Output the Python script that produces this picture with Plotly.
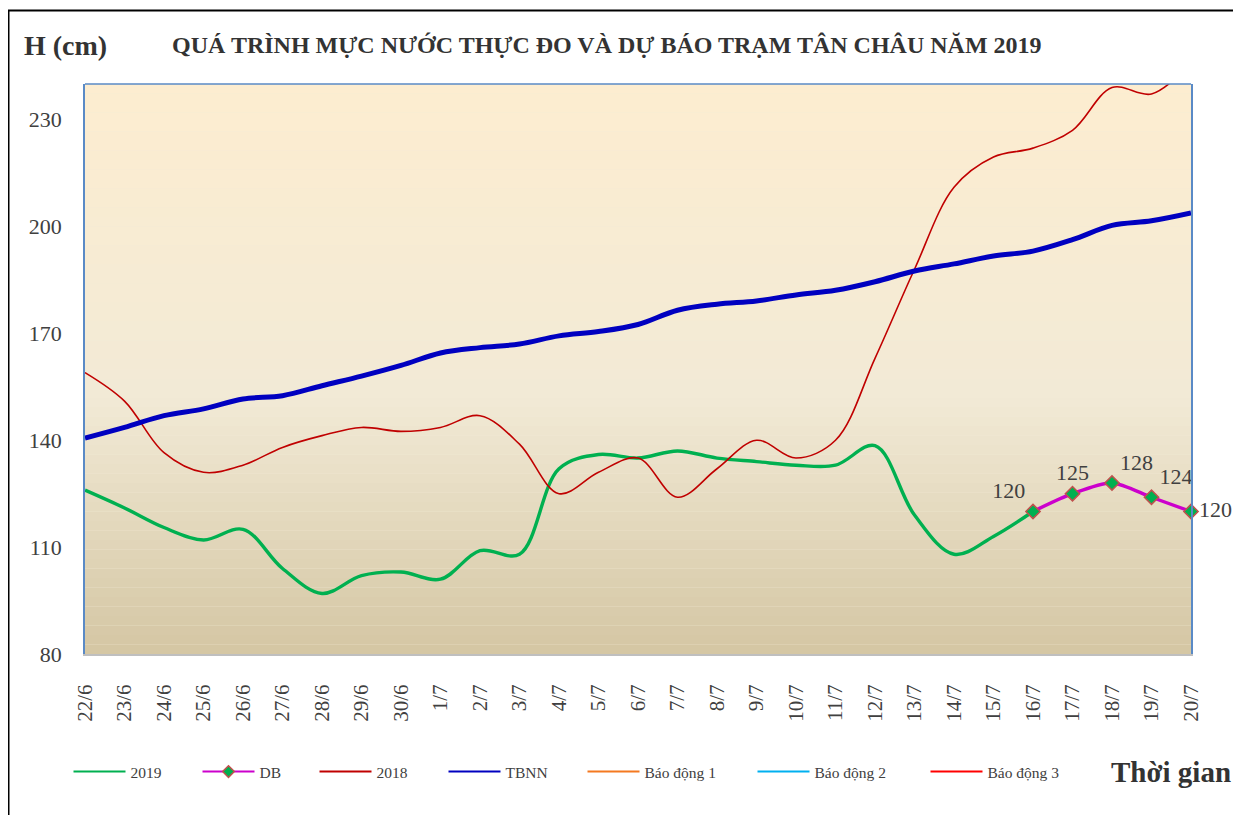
import plotly.graph_objects as go

# ---------------- data ----------------
dates = ["22/6", "23/6", "24/6", "25/6", "26/6", "27/6", "28/6", "29/6", "30/6",
         "1/7", "2/7", "3/7", "4/7", "5/7", "6/7", "7/7", "8/7", "9/7", "10/7",
         "11/7", "12/7", "13/7", "14/7", "15/7", "16/7", "17/7", "18/7", "19/7", "20/7"]

h2019 = [126, 121, 115.5, 112, 115, 104, 97, 102, 103, 101, 109, 108, 132, 136,
         135, 137, 135, 134, 133, 133, 138.5, 119, 108, 113, 120]
db_dates = ["16/7", "17/7", "18/7", "19/7", "20/7"]
db = [120, 125, 128, 124, 120]
h2018 = [159, 151, 136.5, 131, 133, 138, 141.3, 143.6, 142.5, 143.6, 146.9, 138.9,
         125, 131, 135, 124, 132, 140, 135, 140, 163, 188, 211, 219.5, 222, 227,
         239, 237.2, 246]
tbnn = [140.6, 143.6, 146.9, 148.8, 151.6, 152.5, 155.3, 158, 161, 164.5, 166, 167,
        169.3, 170.5, 172.5, 176.5, 178.2, 179.1, 180.8, 182.1, 184.5, 187.5, 189.5,
        191.7, 193.1, 196.3, 200.3, 201.6, 203.8]
alarm_names = ["Báo động 1", "Báo động 2", "Báo động 3"]
alarm_levels = [350, 400, 450]

y_ticks = [80, 110, 140, 170, 200, 230]
title_text = "QUÁ TRÌNH MỰC NƯỚC THỰC ĐO VÀ DỰ BÁO TRẠM TÂN CHÂU NĂM 2019"

# ---------------- geometry (page has an 8px body margin) ----------------
OFF = 8
W, H = 1241 - 2 * OFF, 823 - 2 * OFF
PL, PR, PT, PB = 85, 1191, 84, 654          # plot area in page pixels
ML, MT = PL - OFF, PT - OFF
PW, PH = PR - PL, PB - PT
MR, MB = W - ML - PW, H - MT - PH


def px(x):
    return (x - PL) / PW


def py(y):
    return (PB - y) / PH


SERIF = "Liberation Serif, Times New Roman, serif"
TXT = "#404040"
C2019, CDB, C2018, CTB = "#00B050", "#CC00CC", "#C00000", "#0000C0"
alarm_colors = ["#F47920", "#00B0F0", "#FF0000"]

fig = go.Figure()

fig.add_trace(go.Scatter(x=dates[:len(h2019)], y=h2019, name="2019", mode="lines",
                         line=dict(color=C2019, width=3.4, shape="spline", smoothing=1.0),
                         showlegend=False))
fig.add_trace(go.Scatter(x=dates, y=h2018, name="2018", mode="lines",
                         line=dict(color=C2018, width=1.6, shape="spline", smoothing=1.0),
                         showlegend=False))
fig.add_trace(go.Scatter(x=dates, y=tbnn, name="TBNN", mode="lines",
                         line=dict(color=CTB, width=5, shape="spline", smoothing=1.0),
                         showlegend=False))
for nm, lvl, col in zip(alarm_names, alarm_levels, alarm_colors):
    fig.add_trace(go.Scatter(x=dates, y=[lvl] * len(dates), name=nm, mode="lines",
                             line=dict(color=col, width=2), showlegend=False))
fig.add_trace(go.Scatter(x=db_dates, y=db, name="DB", mode="lines+markers+text",
                         line=dict(color=CDB, width=3.4, shape="spline", smoothing=0.8),
                         marker=dict(symbol="diamond", size=11, color=C2019,
                                     line=dict(color="#C0504D", width=1.5)),
                         text=[str(v) for v in db],
                         textposition=["top left", "top center", "top right", "top right", "middle right"],
                         textfont=dict(family=SERIF, size=22, color=TXT),
                         cliponaxis=False, showlegend=False))

# legend entries (thin sample lines as in the original legend)
legend_items = [("2019", C2019, False), ("DB", CDB, True), ("2018", C2018, False),
                ("TBNN", CTB, False)] + [(n, c, False) for n, c in zip(alarm_names, alarm_colors)]
for k, (nm, col, mk) in enumerate(legend_items):
    key = "legend" if k == 0 else "legend%d" % (k + 1)
    fig.add_trace(go.Scatter(x=[None], y=[None], name=nm,
                             mode="lines+markers" if mk else "lines",
                             line=dict(color=col, width=2),
                             marker=dict(symbol="diamond", size=9, color=C2019,
                                         line=dict(color="#C0504D", width=1.5)),
                             legend=key, showlegend=True))

# gradient background strips
top = (253, 237, 208)
mid = (242, 234, 214)
bot = (212, 198, 163)
N = 60
shapes = []
for i in range(N):
    t = (i + 0.5) / N  # 0 bottom -> 1 top
    if t > 0.45:
        f = (t - 0.45) / 0.55
        c = tuple(round(mid[j] + (top[j] - mid[j]) * f) for j in range(3))
    else:
        f = t / 0.45
        c = tuple(round(bot[j] + (mid[j] - bot[j]) * f) for j in range(3))
    shapes.append(dict(type="rect", xref="paper", yref="paper", x0=0, x1=1,
                       y0=i / N, y1=(i + 1) / N, layer="below", line=dict(width=0),
                       fillcolor="rgb(%d,%d,%d)" % c))
shapes.append(dict(type="line", xref="paper", yref="paper", x0=0, x1=1, y0=1, y1=1,
                   line=dict(color="#5A8AC6", width=1.5)))
# outer frame of the chart
shapes.append(dict(type="rect", xref="paper", yref="paper", x0=px(8.5), x1=px(1270),
                   y0=py(860), y1=py(10.5), line=dict(color="black", width=2),
                   fillcolor="rgba(0,0,0,0)"))

annotations = [
    dict(text="<b>H (cm)</b>", x=px(65), y=py(45), xref="paper", yref="paper",
         xanchor="center", yanchor="middle", showarrow=False,
         font=dict(family=SERIF, size=28, color="#333333")),
    dict(text="<b>" + title_text + "</b>", x=px(607), y=py(45), xref="paper", yref="paper",
         xanchor="center", yanchor="middle", showarrow=False,
         font=dict(family=SERIF, size=24, color="#333333")),
    dict(text="<b>Thời gian</b>", x=px(1171), y=py(772), xref="paper", yref="paper",
         xanchor="center", yanchor="middle", showarrow=False,
         font=dict(family=SERIF, size=29, color="#333333")),
]

legend_starts = [73, 202, 319, 448, 587, 757, 930]
legend_common = dict(orientation="h", yanchor="middle", xanchor="left",
                     bgcolor="rgba(0,0,0,0)", borderwidth=0, itemwidth=52,
                     font=dict(family=SERIF, size=15.5, color=TXT), y=py(772))
layout_legends = {}
for k, s in enumerate(legend_starts):
    key = "legend" if k == 0 else "legend%d" % (k + 1)
    layout_legends[key] = dict(legend_common, x=px(s - 4.5))

fig.update_layout(
    width=W, height=H,
    margin=dict(l=ML, r=MR, t=MT, b=MB),
    paper_bgcolor="white",
    plot_bgcolor="rgb(242,234,214)",
    showlegend=True,
    shapes=shapes,
    annotations=annotations,
    **layout_legends,
)
fig.update_xaxes(type="category", range=[0, len(dates) - 1], tickangle=-90,
                 showgrid=False, zeroline=False, showline=True, linecolor="#BFBFBF",
                 linewidth=2, ticks="", ticklabelstandoff=20,
                 tickfont=dict(family=SERIF, size=21, color=TXT))
fig.update_yaxes(range=[80, 240], tickvals=y_ticks, showgrid=False, zeroline=False,
                 showline=True, linecolor="#5A8AC6", linewidth=1.5, mirror=True,
                 ticks="", ticklabelstandoff=17,
                 tickfont=dict(family=SERIF, size=22, color=TXT))

fig.write_html("out.html")
